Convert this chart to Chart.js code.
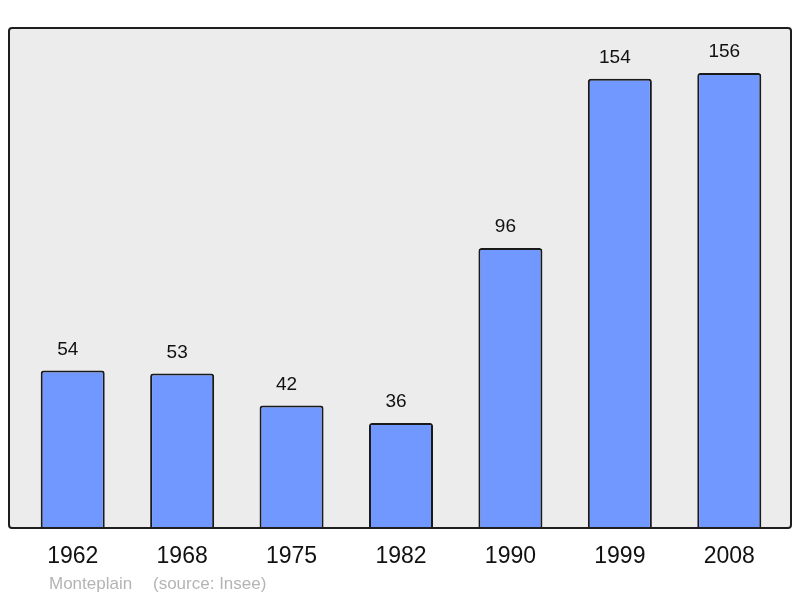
<!DOCTYPE html>
<html>
<head>
<meta charset="utf-8">
<script src="https://cdn.jsdelivr.net/npm/chart.js@4"></script>
<style>
  body { margin: 0; background: #fff; }
</style>
</head>
<body>
<canvas id="chart" width="800" height="598"></canvas>
<script>
const years = ["1962", "1968", "1975", "1982", "1990", "1999", "2008"];
const population = [54, 53, 42, 36, 96, 154, 156];
const placeName = "Monteplain";
const sourceText = "(source: Insee)";

// grey frame behind the bars
const framePlugin = {
    id: "frame",
    beforeDraw(chart) {
        const ctx = chart.ctx;
        ctx.save();
        ctx.beginPath();
        ctx.roundRect(9, 28, 782, 500, 3);
        ctx.fillStyle = "#ececec";
        ctx.fill();
        ctx.restore();
    },
    afterDatasetsDraw(chart) {
        const ctx = chart.ctx;
        ctx.save();
        ctx.beginPath();
        ctx.roundRect(9, 28, 782, 500, 3);
        ctx.lineWidth = 2;
        ctx.strokeStyle = "#1e1e1e";
        ctx.stroke();
        ctx.restore();
    }
};

// numbers above bars + footer
const labelPlugin = {
    id: "labels",
    afterDraw(chart) {
        const ctx = chart.ctx;
        const meta = chart.getDatasetMeta(0);
        ctx.save();
        ctx.font = "19px 'Liberation Sans', Arial, sans-serif";
        ctx.fillStyle = "#111";
        ctx.textAlign = "center";
        ctx.textBaseline = "middle";
        meta.data.forEach((bar, i) => {
            ctx.fillText(population[i], bar.x - 5, bar.y - 21);
        });
        ctx.font = "17px 'Liberation Sans', Arial, sans-serif";
        ctx.fillStyle = "#b4b4b4";
        ctx.textAlign = "left";
        ctx.fillText(placeName, 49, 584);
        ctx.fillText(sourceText, 153, 584);
        ctx.restore();
    }
};

new Chart(document.getElementById("chart"), {
    type: "bar",
    data: {
        labels: years,
        datasets: [{
            data: population,
            backgroundColor: "#7098ff",
            borderColor: "#1a1a1a",
            borderWidth: 2,
            borderRadius: 3,
            borderSkipped: "bottom",
            categoryPercentage: 1,
            barPercentage: 0.585
        }]
    },
    options: {
        responsive: false,
        animation: false,
        layout: { padding: { left: 18, right: 16, top: 28, bottom: 0 } },
        plugins: { legend: { display: false }, tooltip: { enabled: false } },
        scales: {
            y: { display: false, min: 0, max: 171.4 },
            x: {
                grid: { display: false, drawTicks: false },
                border: { display: false },
                ticks: {
                    color: "#111",
                    padding: 15,
                    font: { family: "'Liberation Sans', Arial, sans-serif", size: 23 }
                },
                afterFit(scale) { scale.height = 70; }
            }
        }
    },
    plugins: [framePlugin, labelPlugin]
});
</script>
</body>
</html>
